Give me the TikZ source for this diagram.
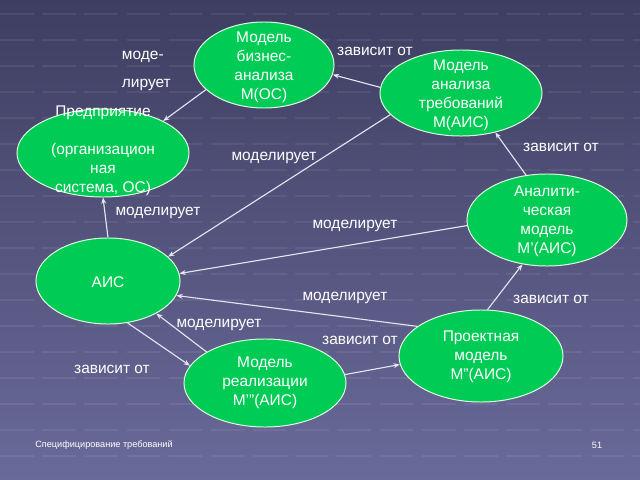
\documentclass[tikz,border=0pt]{standalone}
\usepackage{fontspec}
\setmainfont{Liberation Sans}
\usetikzlibrary{arrows.meta, shapes.geometric}

\definecolor{bgtop}{RGB}{62,62,98}
\definecolor{bgbot}{RGB}{106,106,154}
\definecolor{modelgreen}{RGB}{0,204,85}
\definecolor{linkcol}{RGB}{228,228,242}

\begin{document}
\begin{tikzpicture}[x=0.025cm, y=-0.025cm,
    model/.style={ellipse, draw=green!12!white, line width=0.7pt, fill=modelgreen, inner sep=0pt},
    mtext/.style={text=white, align=center, font=\fontsize{11}{13.5}\selectfont},
    lbl/.style={text=white, font=\fontsize{11}{13.5}\selectfont},
    small/.style={text=white, font=\fontsize{6.5}{8}\selectfont},
    link/.style={draw=linkcol, line width=0.8pt, -{Stealth[length=4.5pt, width=3.5pt]}},
    gridline/.style={draw=white, opacity=0.07, line width=1.2pt, dash pattern=on 24pt off 6pt}]
    \useasboundingbox (0,0) rectangle (640,480);

    % Background
    \fill[top color=bgtop, bottom color=bgbot] (0,0) rectangle (640,480);
    \foreach \y in {14,40,...,470}
        \draw[gridline] (0,\y) -- (640,\y);

    % Models
    \node[model, minimum width=3.5cm, minimum height=2.15cm] (bus) at (264,65) {};
    \node[mtext] (busT) at (264,67) {Модель\\бизнес-\\анализа\\М(ОС)};

    \node[model, minimum width=4.05cm, minimum height=2.15cm] (req) at (461,93) {};
    \node[mtext] (reqT) at (461,95) {Модель\\анализа\\требований\\М(АИС)};

    \node[model, minimum width=4.3cm, minimum height=2.2cm] (ent) at (103,153) {};
    \node[mtext] (entT) at (103,151) {Предприятие\\ \\(организацион\\ная\\система, ОС)};

    \node[model, minimum width=4cm, minimum height=2.3cm] (ana) at (547,220) {};
    \node[mtext] (anaT) at (547,221) {Аналити-\\ческая\\модель\\М’(АИС)};

    \node[model, minimum width=3.6cm, minimum height=2.15cm] (ais) at (108,281) {};
    \node[mtext] (aisT) at (108,282) {АИС};

    \node[model, minimum width=4.05cm, minimum height=2.2cm] (real) at (265,383) {};
    \node[mtext] (realT) at (265,383) {Модель\\реализации\\М’”(АИС)};

    \node[model, minimum width=4.1cm, minimum height=2.3cm] (proj) at (481,356) {};
    \node[mtext] (projT) at (481,357) {Проектная\\модель\\М”(АИС)};

    % Links
    \draw[link] (bus.203) -- (ent.28);
    \draw[link] (req.176) -- (bus.-8);
    \draw[link] (req.197) -- (ais.22);
    \draw[link] (ana.115) -- (req.-49);
    \draw[link] (ana.184) -- (ais.6);
    \draw[link] (proj.155) -- (ais.-12);
    \draw[link] (proj.82) -- (ana.-119);
    \draw[link] (real.6) -- (proj.186);
    \draw[link] (ais.-65) -- (real.167);
    \draw[link] (real.152) -- (ais.-34);
    \draw[link] (ais.90) -- (ent.-90);

    % Link labels
    \node[lbl, anchor=west] (lModA) at (117,57) {моде-};
    \node[lbl, anchor=west] (lModB) at (117,85) {лирует};
    \node[lbl] (lDep1) at (375,51) {зависит от};
    \node[lbl] (lMod1) at (274,158) {моделирует};
    \node[lbl] (lMod2) at (158,213) {моделирует};
    \node[lbl] (lDep2) at (561,147) {зависит от};
    \node[lbl] (lMod3) at (355,226) {моделирует};
    \node[lbl] (lMod4) at (345,298) {моделирует};
    \node[lbl] (lDep3) at (551,299) {зависит от};
    \node[lbl] (lDep4) at (360,340) {зависит от};
    \node[lbl] (lMod5) at (219,325) {моделирует};
    \node[lbl] (lDep5) at (112,369) {зависит от};

    % Footer
    \node[small] (foot) at (104,445) {Специфицирование требований};
    \node[small] (page) at (597,445) {51};
\end{tikzpicture}
\end{document}
